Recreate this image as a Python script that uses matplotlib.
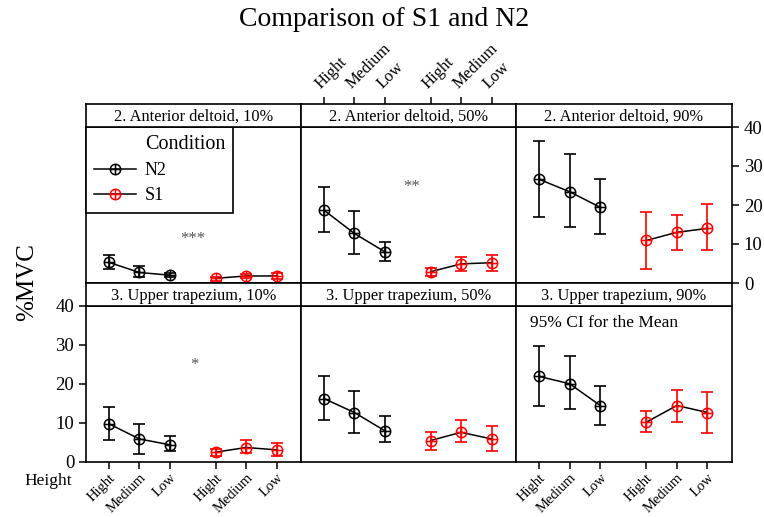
import numpy as np
import matplotlib.pyplot as plt
from matplotlib.path import Path
from matplotlib.lines import Line2D

plt.rcParams['font.family'] = ['Liberation Serif', 'DejaVu Serif']

# panels, row by row
panel_titles = ["2. Anterior deltoid, 10%", "2. Anterior deltoid, 50%", "2. Anterior deltoid, 90%",
                "3. Upper trapezium, 10%", "3. Upper trapezium, 50%", "3. Upper trapezium, 90%"]
heights = ["Hight", "Medium", "Low"]
conditions = ["N2", "S1"]

# mean and 95% CI, one row per panel, columns Hight / Medium / Low
n2_mean = [[5.3, 2.7, 2.0], [18.7, 12.7, 8.0], [26.6, 23.4, 19.4],
           [9.7, 5.8, 4.3], [16.2, 12.6, 7.9], [21.9, 20.0, 14.4]]
n2_lo = [[3.5, 1.6, 1.5], [13.2, 7.4, 5.6], [16.8, 14.3, 12.5],
         [5.5, 2.0, 2.6], [10.6, 7.3, 4.9], [14.2, 13.5, 9.5]]
n2_hi = [[7.2, 4.4, 2.5], [24.5, 18.5, 10.6], [36.5, 33.0, 26.7],
         [13.9, 9.7, 6.6], [22.1, 18.1, 11.6], [29.6, 27.1, 19.5]]
s1_mean = [[1.2, 1.8, 1.8], [2.9, 4.9, 5.2], [10.9, 13.0, 14.0],
           [2.4, 3.6, 3.0], [5.4, 7.5, 5.8], [10.1, 14.4, 12.6]]
s1_lo = [[0.6, 1.2, 1.1], [1.8, 3.2, 3.2], [3.5, 8.5, 8.5],
         [1.5, 2.2, 1.5], [3.0, 4.9, 2.6], [7.7, 10.2, 7.3]]
s1_hi = [[1.6, 2.4, 2.5], [3.9, 6.6, 7.3], [18.1, 17.4, 20.3],
         [3.2, 5.5, 4.7], [7.6, 10.6, 9.2], [13.1, 18.5, 18.0]]

# significance marks
star_text = ["***", "**", "", "*", "", ""]
star_xy = [(2.75, 11.3), (2.88, 24.5), None, (2.82, 24.9), None, None]

# circle with a plus
circ = Path.unit_circle()
cross = Path([(-1, 0), (1, 0), (0, -1), (0, 1)],
             [Path.MOVETO, Path.LINETO, Path.MOVETO, Path.LINETO])
oplus = Path.make_compound_path(circ, cross)

W, H = 764, 517
fig = plt.figure(figsize=(W / 100, H / 100), dpi=100)

def box(x0, x1, y0, y1):
    return [x0 / W, 1 - y1 / H, (x1 - x0) / W, (y1 - y0) / H]

cols = [86, 301, 516, 732]
rows = [(104, 127, 283), (283, 306, 461.5)]

pos_n2 = np.arange(3)
pos_s1 = np.arange(3) + 3.5
ticks = np.concatenate([pos_n2, pos_s1])
labels = heights + heights
xlim = (-0.75, 6.3)

axes = []
strips = []
for i in range(6):
    r, c = divmod(i, 3)
    st, top, bot = rows[r]
    ax = fig.add_axes(box(cols[c], cols[c + 1], top, bot))
    sax = fig.add_axes(box(cols[c], cols[c + 1], st, top))
    sax.set_xlim(xlim)
    sax.set_xticks([])
    sax.set_yticks([])
    sax.text(0.5, 0.45, panel_titles[i], ha="center", va="center", fontsize=11.8, transform=sax.transAxes)
    for a in (ax, sax):
        for s in a.spines.values():
            s.set_linewidth(1.2)

    groups = [(pos_n2, n2_mean[i], n2_lo[i], n2_hi[i], "black"),
              (pos_s1, s1_mean[i], s1_lo[i], s1_hi[i], "red")]
    for x, m, lo, hi, col in groups:
        m = np.array(m)
        err = [m - np.array(lo), np.array(hi) - m]
        ax.errorbar(x, m, yerr=err, fmt="none", ecolor=col, capsize=4.5, elinewidth=1.2, capthick=1.2)
        ax.plot(x, m, color="black", lw=1.1, marker=oplus, ms=7.5, mfc="none", mec=col, mew=1.1)

    if star_xy[i] is not None:
        ax.text(star_xy[i][0], star_xy[i][1], star_text[i], ha="center", va="center",
                fontsize=12, color="#555555")

    ax.set_xlim(xlim)
    ax.set_ylim(0, 40)
    ax.set_xticks(ticks)
    ax.set_yticks([0, 10, 20, 30, 40])
    ax.tick_params(direction="out", length=5, width=1.1, labelsize=13.5)
    ax.tick_params(axis="both", bottom=False, labelbottom=False, left=False, labelleft=False)
    axes.append(ax)
    strips.append(sax)

# top row: x labels above the middle strip, y axis on right of last panel
s = strips[1]
s.set_xticks(ticks)
s.tick_params(axis="x", direction="out", length=5, width=1.1, top=True, labeltop=True,
              bottom=False, labelbottom=False)
s.set_xticklabels(labels, rotation=45, ha="left", va="bottom", rotation_mode="anchor", fontsize=12)
axes[2].tick_params(axis="y", right=True, labelright=True)

# bottom row: x labels under first and last panel, y axis on left of first panel
for k in (3, 5):
    axes[k].tick_params(axis="x", bottom=True, labelbottom=True, pad=2)
    axes[k].set_xticklabels(labels, rotation=45, ha="right", va="top", rotation_mode="anchor", fontsize=10.5)
axes[3].tick_params(axis="y", left=True, labelleft=True)

axes[5].text(0.065, 0.89, "95% CI for the Mean", transform=axes[5].transAxes,
             ha="left", va="center", fontsize=12.5)

# legend
blank = Line2D([], [], linestyle="none")
h_n2 = Line2D([], [], color="black", lw=1.1, marker=oplus, ms=7.5, mfc="none", mec="black", mew=1.1)
h_s1 = Line2D([], [], color="black", lw=1.1, marker=oplus, ms=7.5, mfc="none", mec="red", mew=1.1)
leg = axes[0].legend([blank, h_n2, h_s1], ["Condition"] + conditions, loc="upper left",
                     bbox_to_anchor=(0, 1), borderaxespad=0, fancybox=False, edgecolor="black",
                     framealpha=1, fontsize=13, handlelength=2.3, handletextpad=0.5,
                     borderpad=0.45, labelspacing=0.45)
leg.get_frame().set_linewidth(1.2)
leg.get_texts()[0].set_fontsize(14.5)

fig.text(384 / W, 1 - 19 / H, "Comparison of S1 and N2", ha="center", va="center", fontsize=20)
fig.text(27 / W, 1 - 282 / H, "%MVC", rotation=90, ha="center", va="center", fontsize=18)
fig.text(48 / W, 1 - 481 / H, "Height", ha="center", va="center", fontsize=12.5)

fig.savefig("out.png", dpi=100)
